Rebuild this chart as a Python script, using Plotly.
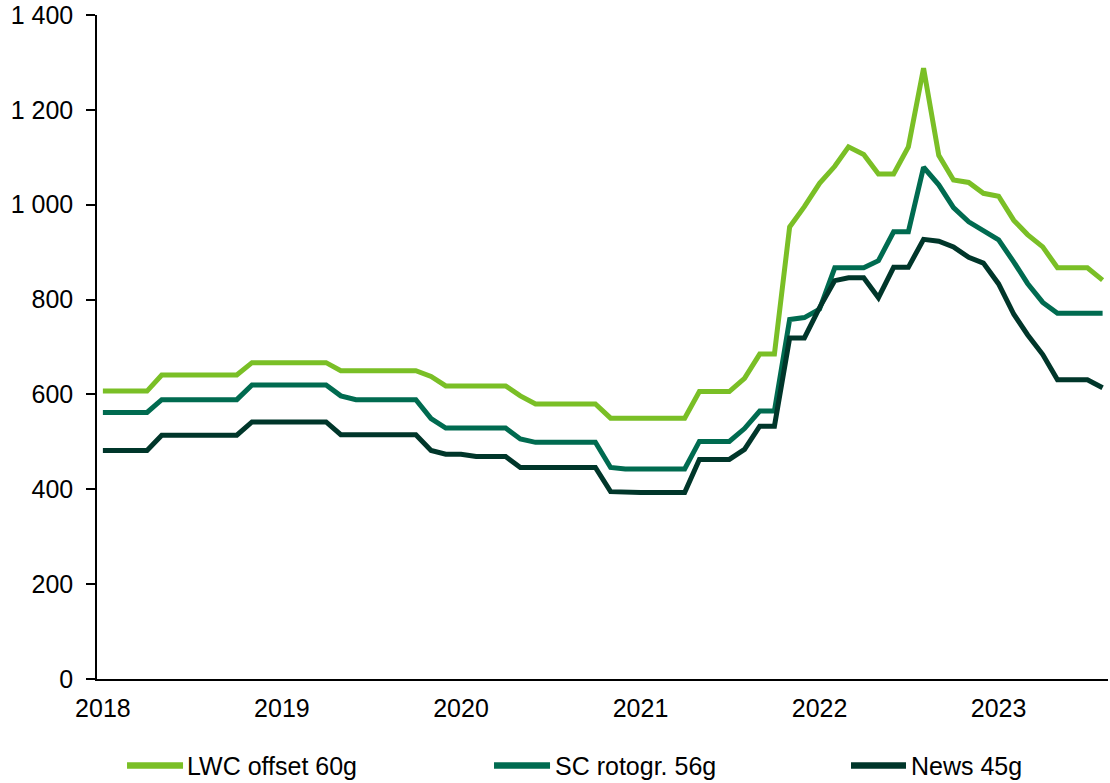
import plotly.graph_objects as go
import pandas as pd

months = pd.date_range("2018-01-01", "2023-08-01", freq="MS")

lwc = [607, 607, 607, 607, 641, 641, 641, 641, 641, 641, 667, 667,
       667, 667, 667, 667, 650, 650, 650, 650, 650, 650, 638, 618,
       618, 618, 618, 618, 597, 580, 580, 580, 580, 580, 550, 550,
       550, 550, 550, 550, 606, 606, 606, 634, 685, 685, 953, 996,
       1045, 1081, 1122, 1106, 1065, 1065, 1122, 1288, 1104, 1052, 1047, 1024,
       1018, 967, 937, 911, 867, 867, 867, 841]

sc = [562, 562, 562, 562, 589, 589, 589, 589, 589, 589, 620, 620,
      620, 620, 620, 620, 597, 589, 589, 589, 589, 589, 549, 529,
      529, 529, 529, 529, 506, 499, 499, 499, 499, 499, 446, 443,
      443, 443, 443, 443, 501, 501, 501, 528, 565, 565, 758, 762,
      780, 867, 867, 867, 882, 943, 943, 1079, 1042, 994, 964, 945,
      926, 879, 834, 794, 771, 771, 771, 771]

news = [482, 482, 482, 482, 514, 514, 514, 514, 514, 514, 542, 542,
        542, 542, 542, 542, 515, 515, 515, 515, 515, 515, 482, 474,
        474, 469, 469, 469, 446, 446, 446, 446, 446, 446, 395, 393,
        393, 393, 393, 393, 463, 463, 463, 484, 533, 533, 719, 719,
        783, 840, 846, 846, 804, 868, 868, 927, 923, 911, 889, 877,
        833, 769, 726, 684, 631, 631, 631, 614]

series_names = ["LWC offset 60g", "SC rotogr. 56g", "News 45g"]
series_colors = ["#7abf26", "#006b50", "#00362a"]
year_ticks = ["2018", "2019", "2020", "2021", "2022", "2023"]
y_ticks = [0, 200, 400, 600, 800, 1000, 1200, 1400]

font = dict(family="Liberation Sans, Arial, sans-serif", size=25, color="#000000")

fig = go.Figure()
for name, vals, col in zip(series_names, [lwc, sc, news], series_colors):
    fig.add_trace(go.Scatter(
        x=months, y=vals, mode="lines", name=name,
        line=dict(color=col, width=5),
        showlegend=False,
    ))

# legend drawn as line samples + labels below the plot
legend_x = [(0.0297, 0.0851, 0.0880), (0.3927, 0.4481, 0.4520), (0.7458, 0.8002, 0.8042)]
legend_y = -0.1303
for (x0, x1, xt), name, col in zip(legend_x, series_names, series_colors):
    fig.add_shape(type="line", xref="paper", yref="paper",
                  x0=x0, x1=x1, y0=legend_y, y1=legend_y,
                  line=dict(color=col, width=6.5), layer="above")
    fig.add_annotation(xref="paper", yref="paper", x=xt, y=legend_y,
                       xanchor="left", yanchor="middle", text=name,
                       showarrow=False, font=font, borderpad=0)

fig.update_layout(
    width=1110, height=783,
    margin=dict(l=97, r=2, t=15, b=104, autoexpand=False),
    paper_bgcolor="white", plot_bgcolor="white",
    font=font,
    separators=", ",
    showlegend=False,
)

fig.update_xaxes(
    type="date",
    range=["2017-12-20", "2023-08-12"],
    tickvals=[f"{y}-01-01" for y in year_ticks],
    ticktext=year_ticks,
    showgrid=False, zeroline=False,
    showline=True, linecolor="black", linewidth=1.5,
    ticks="", ticklabelstandoff=6,
)

fig.update_yaxes(
    range=[0, 1400],
    tickvals=y_ticks,
    tickformat=",d",
    showgrid=False, zeroline=False,
    showline=True, linecolor="black", linewidth=1.5,
    ticks="outside", ticklen=9, tickwidth=1.5, tickcolor="black",
    ticklabelstandoff=8,
    ticklabeloverflow="allow",
)

# remove the page's default body margin so the figure fills the window exactly
fig.write_html("out.html", config={"displayModeBar": False},
               post_script="document.body.style.margin='0';")
